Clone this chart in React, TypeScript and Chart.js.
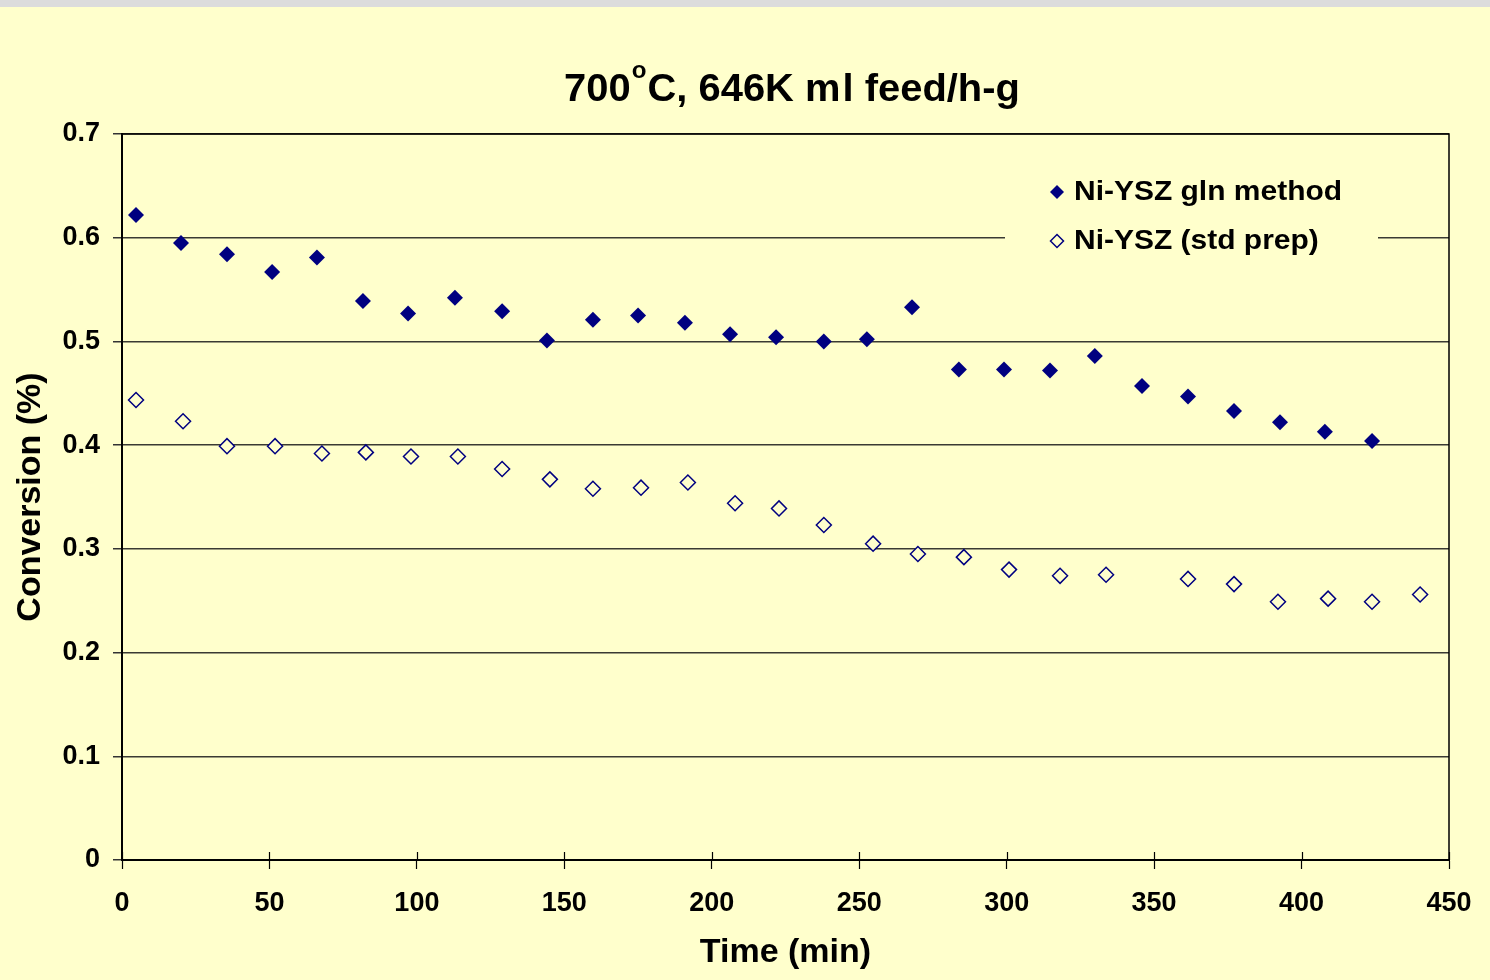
import React, { useEffect, useRef } from "react";
import { Chart, registerables } from "chart.js";

Chart.register(...registerables);

// Ni-YSZ prepared by the glycine-nitrate route
const timeGln = [4.75, 20.0, 35.6, 50.9, 66.1, 81.7, 97.0, 112.9, 128.9, 144.1, 159.7, 175.0, 190.9, 206.2, 221.8, 238.0, 252.6, 267.9, 283.8, 299.1, 314.7, 329.9, 345.9, 361.5, 377.1, 392.7, 407.9, 423.9];
const convGln = [0.622, 0.595, 0.584, 0.567, 0.581, 0.539, 0.527, 0.542, 0.529, 0.501, 0.521, 0.525, 0.518, 0.507, 0.504, 0.5, 0.502, 0.533, 0.473, 0.473, 0.472, 0.486, 0.457, 0.447, 0.433, 0.422, 0.413, 0.404];

// Ni-YSZ standard preparation
const timeStd = [4.75, 20.7, 35.6, 51.9, 67.8, 82.7, 98.0, 113.9, 128.9, 145.1, 159.7, 176.0, 191.9, 207.9, 222.8, 238.0, 254.7, 269.9, 285.5, 300.8, 318.1, 333.7, 361.5, 377.1, 392.0, 409.0, 423.9, 440.2];
const convStd = [0.4435, 0.423, 0.399, 0.399, 0.392, 0.393, 0.389, 0.389, 0.377, 0.367, 0.358, 0.359, 0.364, 0.344, 0.339, 0.323, 0.305, 0.295, 0.292, 0.28, 0.274, 0.275, 0.271, 0.266, 0.249, 0.252, 0.249, 0.256];

const seriesNames = ["Ni-YSZ gln method", "Ni-YSZ (std prep)"];
const xRange = [0, 450];
const yRange = [0, 0.7];

const FONT = '"Liberation Sans", Arial, sans-serif';
const NAVY = "#000080";
const BG = "#FFFFCC";

const toPoints = (xs: number[], ys: number[]) => xs.map((x, i) => ({ x, y: ys[i] }));

function diamond(ctx: CanvasRenderingContext2D, x: number, y: number, r: number) {
  ctx.beginPath();
  ctx.moveTo(x - r, y);
  ctx.lineTo(x, y - r);
  ctx.lineTo(x + r, y);
  ctx.lineTo(x, y + r);
  ctx.closePath();
}

const decor = {
  id: "decor",
  beforeDraw(chart: any) {
    const { ctx, width, height } = chart;
    ctx.save();
    ctx.fillStyle = BG;
    ctx.fillRect(0, 0, width, height);
    ctx.fillStyle = "#DCDCDC";
    ctx.fillRect(0, 0, width, 7);
    ctx.restore();
  },
  beforeDatasetsDraw(chart: any) {
    const { ctx, chartArea } = chart;
    const { left, right, top, bottom } = chartArea;
    ctx.save();
    ctx.strokeStyle = "#000";
    ctx.lineWidth = 1.5;
    ctx.beginPath();
    ctx.moveTo(left, top);
    ctx.lineTo(right, top);
    ctx.lineTo(right, bottom);
    ctx.stroke();
    // inner half of the x tick marks
    const xs = chart.scales.x;
    ctx.lineWidth = 1.2;
    ctx.beginPath();
    xs.ticks.forEach((t: any) => {
      const px = Math.round(xs.getPixelForValue(t.value)) + 0.5;
      ctx.moveTo(px, bottom - 8);
      ctx.lineTo(px, bottom);
    });
    ctx.stroke();
    ctx.restore();
  },
  afterDatasetsDraw(chart: any) {
    const { ctx } = chart;
    ctx.save();
    // legend
    ctx.fillStyle = BG;
    ctx.fillRect(1005, 166, 373, 100);
    const rows = [192, 241];
    diamond(ctx, 1057, rows[0], 7);
    ctx.fillStyle = NAVY;
    ctx.fill();
    diamond(ctx, 1057, rows[1], 6.5);
    ctx.fillStyle = BG;
    ctx.fill();
    ctx.strokeStyle = NAVY;
    ctx.lineWidth = 1.5;
    ctx.stroke();
    ctx.fillStyle = "#000";
    ctx.font = `bold 27px ${FONT}`;
    ctx.textBaseline = "middle";
    ctx.textAlign = "left";
    seriesNames.forEach((name, i) => {
      ctx.save();
      ctx.translate(1074, rows[i] + 1);
      ctx.scale(1.11, 1);
      ctx.fillText(name, 0, 0);
      ctx.restore();
    });

    // title with superscript degree mark
    const big = `bold 38px ${FONT}`;
    const small = `bold 23px ${FONT}`;
    const parts: [string, string, number, number][] = [
      ["700", big, 0, 1],
      ["o", small, -23, 1],
      ["C, 646K m", big, 0, 2],
      ["l feed/h-g", big, 0, 0],
    ];
    ctx.textBaseline = "alphabetic";
    let total = 0;
    parts.forEach(([s, f, , gap]) => {
      ctx.font = f;
      total += ctx.measureText(s).width + gap;
    });
    const sx = 1.05;
    const cx = 792;
    ctx.translate(cx - (total * sx) / 2, 101);
    ctx.scale(sx, 1);
    let x = 0;
    parts.forEach(([s, f, dy, gap]) => {
      ctx.font = f;
      ctx.fillText(s, x, dy);
      x += ctx.measureText(s).width + gap;
    });
    ctx.restore();
  },
};

export default function App() {
  const ref = useRef<HTMLCanvasElement | null>(null);

  useEffect(() => {
    if (!ref.current) return;
    const chart = new Chart(ref.current, {
      type: "scatter",
      data: {
        datasets: [
          {
            label: seriesNames[0],
            data: toPoints(timeGln, convGln),
            pointStyle: "rectRot",
            pointRadius: 8,
            backgroundColor: NAVY,
            borderColor: NAVY,
            borderWidth: 0,
            showLine: false,
          },
          {
            label: seriesNames[1],
            data: toPoints(timeStd, convStd),
            pointStyle: "rectRot",
            pointRadius: 7.5,
            backgroundColor: BG,
            borderColor: NAVY,
            borderWidth: 1.5,
            showLine: false,
          },
        ],
      },
      options: {
        responsive: false,
        animation: false,
        devicePixelRatio: 1,
        layout: { padding: { left: 0, top: 134, right: 41, bottom: 0 } },
        plugins: {
          legend: { display: false },
          tooltip: { enabled: false },
          title: { display: false },
        },
        scales: {
          x: {
            type: "linear",
            min: xRange[0],
            max: xRange[1],
            afterFit: (s: any) => {
              s.height = 120;
            },
            ticks: {
              stepSize: 50,
              color: "#000",
              padding: 18,
              font: { family: FONT, size: 27, weight: "bold" },
              maxRotation: 0,
            },
            grid: {
              drawOnChartArea: false,
              drawTicks: true,
              tickLength: 9,
              tickColor: "#000",
              tickWidth: 1.2,
            },
            border: { display: true, color: "#000", width: 2 },
            title: {
              display: true,
              text: "Time (min)",
              color: "#000",
              font: { family: FONT, size: 34, weight: "bold" },
              padding: { top: 0, bottom: 7 },
            },
          },
          y: {
            type: "linear",
            min: yRange[0],
            max: yRange[1],
            afterFit: (s: any) => {
              s.width = 122;
            },
            ticks: {
              stepSize: 0.1,
              color: "#000",
              padding: 13,
              font: { family: FONT, size: 27, weight: "bold" },
              callback: (v: any) => (Number(v) === 0 ? "0" : Number(v).toFixed(1)),
            },
            grid: {
              color: "#3a3a33",
              lineWidth: 1.5,
              tickLength: 9,
              tickColor: "#333",
            },
            border: { display: true, color: "#000", width: 2 },
            title: {
              display: true,
              text: "Conversion (%)",
              color: "#000",
              font: { family: FONT, size: 34, weight: "bold" },
              padding: { top: 10, bottom: 0 },
            },
          },
        },
      },
      plugins: [decor],
    });
    return () => chart.destroy();
  }, []);

  return (
    <div style={{ position: "fixed", left: 0, top: 0, width: 1490, height: 980, background: BG }}>
      <canvas ref={ref} width={1490} height={980} style={{ display: "block", width: 1490, height: 980 }} />
    </div>
  );
}
